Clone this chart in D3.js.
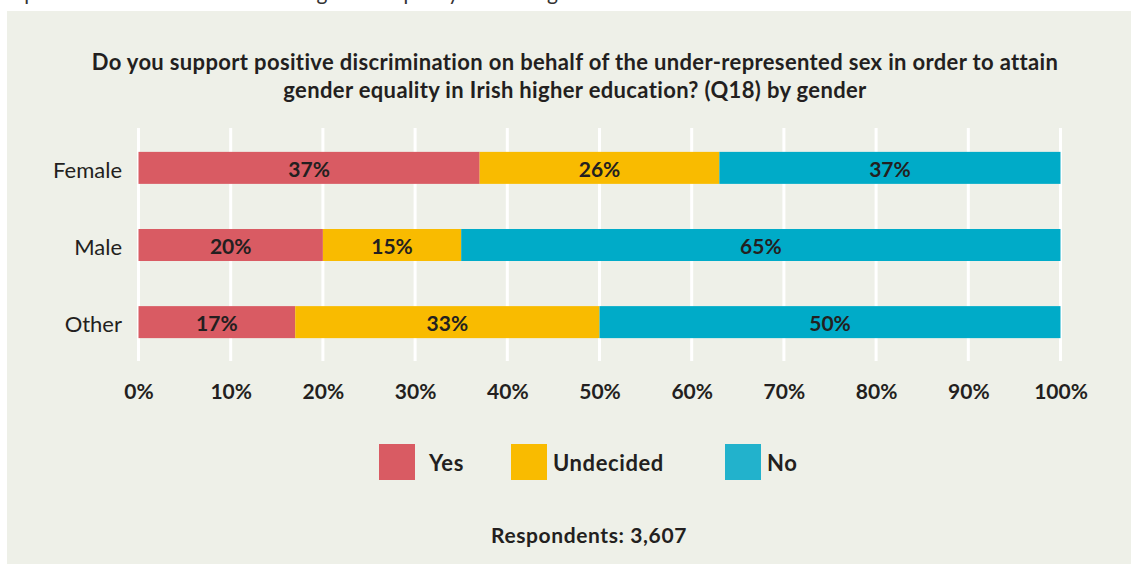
<!DOCTYPE html>
<html>
<head>
<meta charset="utf-8">
<script src="https://cdn.jsdelivr.net/npm/d3@7"></script>
<style>
  html, body { margin: 0; padding: 0; background: #ffffff; }
  svg { display: block; font-family: Lato, "Open Sans", sans-serif; }
</style>
</head>
<body>
<svg id="chart" width="1131" height="574"></svg>
<script>
// Survey responses by gender (percent of respondents)
const categories = ["Female", "Male", "Other"];
const seriesNames = ["Yes", "Undecided", "No"];
const yesValues = [37, 20, 17];
const undecidedValues = [26, 15, 33];
const noValues = [37, 65, 50];
const tickValues = [0, 10, 20, 30, 40, 50, 60, 70, 80, 90, 100];
const titleLines = [
  "Do you support positive discrimination on behalf of the under-represented sex in order to attain",
  "gender equality in Irish higher education? (Q18) by gender"
];
const respondentsNote = "Respondents: 3,607";
const precedingText = "represented sex in order to attain gender equality in Irish higher education.";

const barColors = { Yes: "#d95b63", Undecided: "#f9bb00", No: "#00abc8" };
const legendColors = { Yes: "#d95b63", Undecided: "#f9bb00", No: "#22b2cc" };
const textColor = "#231f20";

const svg = d3.select("#chart");

// tail of the preceding paragraph, running off the page top
svg.append("text")
  .attr("x", 6).attr("y", 0)
  .attr("font-size", 21).attr("fill", "#333")
  .text(precedingText);

// panel
svg.append("rect")
  .attr("x", 7).attr("y", 11).attr("width", 1124).attr("height", 553)
  .attr("fill", "#eef0e8");

// title
svg.append("g").selectAll("text").data(titleLines).join("text")
  .attr("x", 575).attr("y", (d, i) => 70 + i * 28)
  .attr("text-anchor", "middle")
  .attr("font-size", 22).attr("font-weight", 700).attr("fill", textColor)
  .attr("letter-spacing", 0.35)
  .text(d => d);

const rows = categories.map((c, i) => ({
  category: c, Yes: yesValues[i], Undecided: undecidedValues[i], No: noValues[i]
}));
const stacked = d3.stack().keys(seriesNames)(rows);

const x = d3.scaleLinear().domain([0, 100]).range([138.5, 1060.5]);
const y = d3.scaleBand().domain(categories).range([129.5, 360.5]).paddingInner(0.585).paddingOuter(0.29);

// gridlines
svg.append("g").selectAll("line").data(tickValues).join("line")
  .attr("x1", d => x(d)).attr("x2", d => x(d))
  .attr("y1", 128).attr("y2", 361)
  .attr("stroke", "#ffffff").attr("stroke-width", 3);

// bars
const layers = svg.append("g").selectAll("g").data(stacked).join("g")
  .attr("fill", d => barColors[d.key]);
layers.selectAll("rect").data(d => d.map(v => ({ v, key: d.key }))).join("rect")
  .attr("x", d => x(d.v[0]))
  .attr("width", d => x(d.v[1]) - x(d.v[0]))
  .attr("y", d => y(d.v.data.category))
  .attr("height", y.bandwidth());

// value labels
layers.selectAll("text").data(d => d.map(v => ({ v, key: d.key }))).join("text")
  .attr("x", d => (x(d.v[0]) + x(d.v[1])) / 2)
  .attr("y", d => y(d.v.data.category) + y.bandwidth() / 2 + 9)
  .attr("text-anchor", "middle")
  .attr("font-size", 21).attr("font-weight", 700).attr("fill", textColor)
  .text(d => (d.v[1] - d.v[0]) + "%");

// category axis
const yAxis = svg.append("g").attr("transform", "translate(122,2)")
  .call(d3.axisLeft(y).tickSize(0).tickPadding(0));
yAxis.select(".domain").remove();
yAxis.selectAll("text")
  .attr("font-size", 22).attr("fill", textColor)
  .attr("font-family", "Lato, sans-serif").attr("dy", "0.35em");

// percentage axis
const xAxis = svg.append("g").attr("transform", "translate(0,384)")
  .call(d3.axisBottom(x).tickValues(tickValues).tickFormat(d => d + "%").tickSize(0).tickPadding(0));
xAxis.select(".domain").remove();
xAxis.selectAll("text")
  .attr("font-size", 21).attr("font-weight", 700).attr("fill", textColor)
  .attr("font-family", "Lato, sans-serif").attr("dy", "0.71em");

// legend
const legendX = { Yes: 379, Undecided: 511, No: 725 };
const legend = svg.append("g").selectAll("g").data(seriesNames).join("g")
  .attr("transform", d => `translate(${legendX[d]},444)`);
legend.append("rect").attr("width", 36).attr("height", 36).attr("fill", d => legendColors[d]);
legend.append("text")
  .attr("x", d => d === "Yes" ? 50 : 42).attr("y", 27)
  .attr("font-size", 22).attr("font-weight", 700).attr("fill", textColor)
  .attr("letter-spacing", 0.6)
  .text(d => d);

// respondents note
svg.append("text")
  .attr("x", 589).attr("y", 543).attr("text-anchor", "middle")
  .attr("font-size", 21).attr("font-weight", 700).attr("fill", textColor)
  .attr("letter-spacing", 0.6)
  .text(respondentsNote);
</script>
</body>
</html>
